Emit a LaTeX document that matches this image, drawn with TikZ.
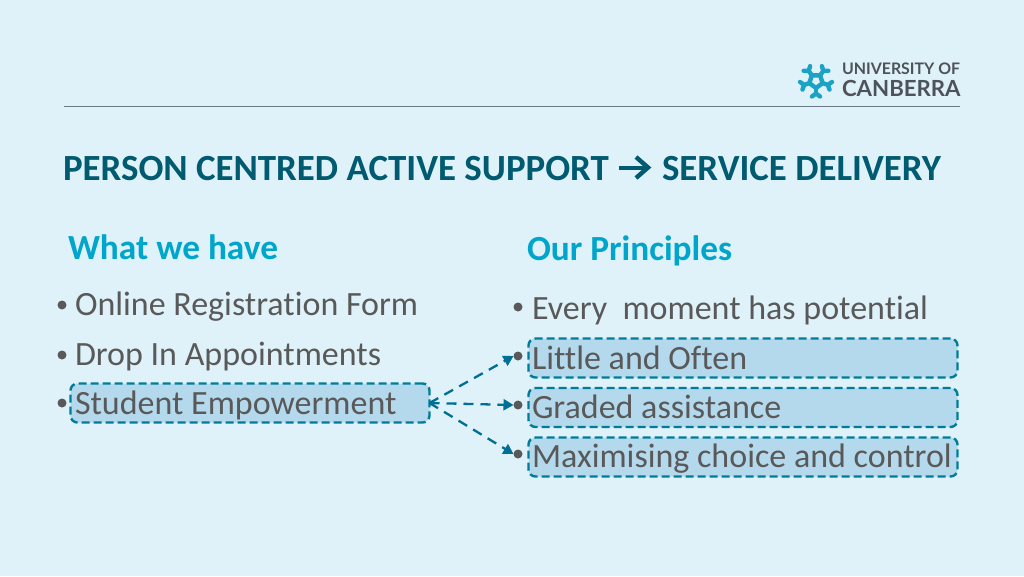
\documentclass[tikz,border=0pt]{standalone}
\usepackage{fontspec}
\setmainfont[Ligatures=CommonOff]{Carlito}
\newfontfamily\logofont{Lato}
\usetikzlibrary{arrows.meta}
\definecolor{bg}{HTML}{DFF2F9}
\definecolor{txt}{HTML}{595959}
\definecolor{dark}{HTML}{005A70}
\definecolor{cyanh}{HTML}{00A5CC}
\definecolor{boxfill}{HTML}{B5D9EC}
\definecolor{boxline}{HTML}{007C99}
\definecolor{arrowc}{HTML}{006F94}
\definecolor{logoc}{HTML}{1BA3C6}
\definecolor{logot}{HTML}{4D5359}
\definecolor{rulec}{HTML}{6B7A80}
\tikzset{
  x=1pt,y=-1pt,
  every node/.style={inner sep=0pt,outer sep=0pt},
  item/.style={anchor=west,font=\fontsize{34}{34}\selectfont,text=txt},
  heading/.style={anchor=west,font=\fontsize{35.3}{35}\selectfont\bfseries,text=cyanh},
  hbox/.style={draw=boxline,fill=boxfill,line width=2.4pt,dash pattern=on 8pt off 4pt,rounded corners=7pt,anchor=north west},
  bulletdot/.style={circle,fill=txt,minimum size=9pt},
  link/.style={draw=arrowc,line width=2.3pt,dash pattern=on 10pt off 7pt,-{Triangle[length=10pt,width=11pt]}},
  arm/.style={draw=logoc,line width=4.4pt},
}
\begin{document}
\begin{tikzpicture}
\useasboundingbox (0,0) rectangle (1024,576);
\fill[bg] (0,0) rectangle (1024,576);
% header rule
\coordinate (ruleL) at (64,106.5);
\coordinate (ruleR) at (960,106.5);
\draw[rulec,line width=1.1pt] (ruleL) -- (ruleR);
% logo
\begin{scope}[shift={(816,81)}]
  \draw[arm,line join=round] (90:7) -- (162:7) -- (234:7) -- (306:7) -- (18:7) -- cycle;
  \foreach \a in {-90,-18,54,126,198}{
    \begin{scope}[rotate=\a]
      \draw[arm] (7,0) -- (13,0);
      \draw[arm,line cap=round] (15.5,-4) -- (12.5,0) -- (15.5,4);
    \end{scope}
  }
\end{scope}
\node[anchor=west,font=\logofont\bfseries\fontsize{15.9}{16}\selectfont,text=logot] (logo1) at (842,69) {UNIVERSITY OF};
\node[anchor=west,font=\logofont\bfseries\fontsize{22.2}{22}\selectfont,text=logot] (logo2) at (842,88.5) {CANBERRA};
% title
\node[anchor=west,font=\fontsize{36.9}{37}\selectfont\bfseries,text=dark] (title1) at (63,168.5) {PERSON CENTRED ACTIVE SUPPORT};
\node[anchor=west,font=\fontsize{36.9}{37}\selectfont\bfseries,text=dark] (title2) at (662,168.5) {SERVICE DELIVERY};
\coordinate (arrS) at (619,167.5);
\coordinate (arrE) at (647,167.5);
\draw[dark,line width=4pt] (arrS) -- (arrE);
\draw[dark,line width=4.4pt] ([xshift=-11pt,yshift=-10.5pt]arrE) -- ([xshift=1pt]arrE) -- ([xshift=-11pt,yshift=10.5pt]arrE);
% headings
\node[heading] (h1) at (68,247) {What we have};
\node[heading] (h2) at (527,250.5) {Our Principles};
% highlight boxes
\node[hbox,minimum width=429pt,minimum height=39pt] (b1) at (528.5,338.5) {};
\node[hbox,minimum width=429pt,minimum height=39pt] (b2) at (528.5,388) {};
\node[hbox,minimum width=429pt,minimum height=39pt] (b3) at (528.5,437.5) {};
\node[hbox,minimum width=359pt,minimum height=39pt] (bL) at (70.5,383.5) {};
% left list
\node[bulletdot] (d1) at (62,305) {};
\node[bulletdot] (d2) at (62,355) {};
\node[bulletdot] (d3) at (62,403) {};
\node[item] (l1) at (75,306.5) {Online Registration Form};
\node[item] (l2) at (75,356.5) {Drop In Appointments};
\node[item] (l3) at (75,405.5) {Student Empowerment};
% right list
\node[bulletdot] (e1) at (518,307) {};
\node[bulletdot] (e2) at (518,356) {};
\node[bulletdot] (e3) at (518,405) {};
\node[bulletdot] (e4) at (518,454) {};
\node[item] (r1) at (532,310.5) {Every\ \ moment has potential};
\node[item] (r2) at (532,357.5) {Little and Often};
\node[item] (r3) at (532,407) {Graded assistance};
\node[item] (r4) at (532,458.5) {Maximising choice and control};
% connectors
\draw[link] (bL.east) -- (e2.west);
\draw[link] (bL.east) -- (e3.west);
\draw[link] (bL.east) -- (e4.west);
\end{tikzpicture}
\end{document}
